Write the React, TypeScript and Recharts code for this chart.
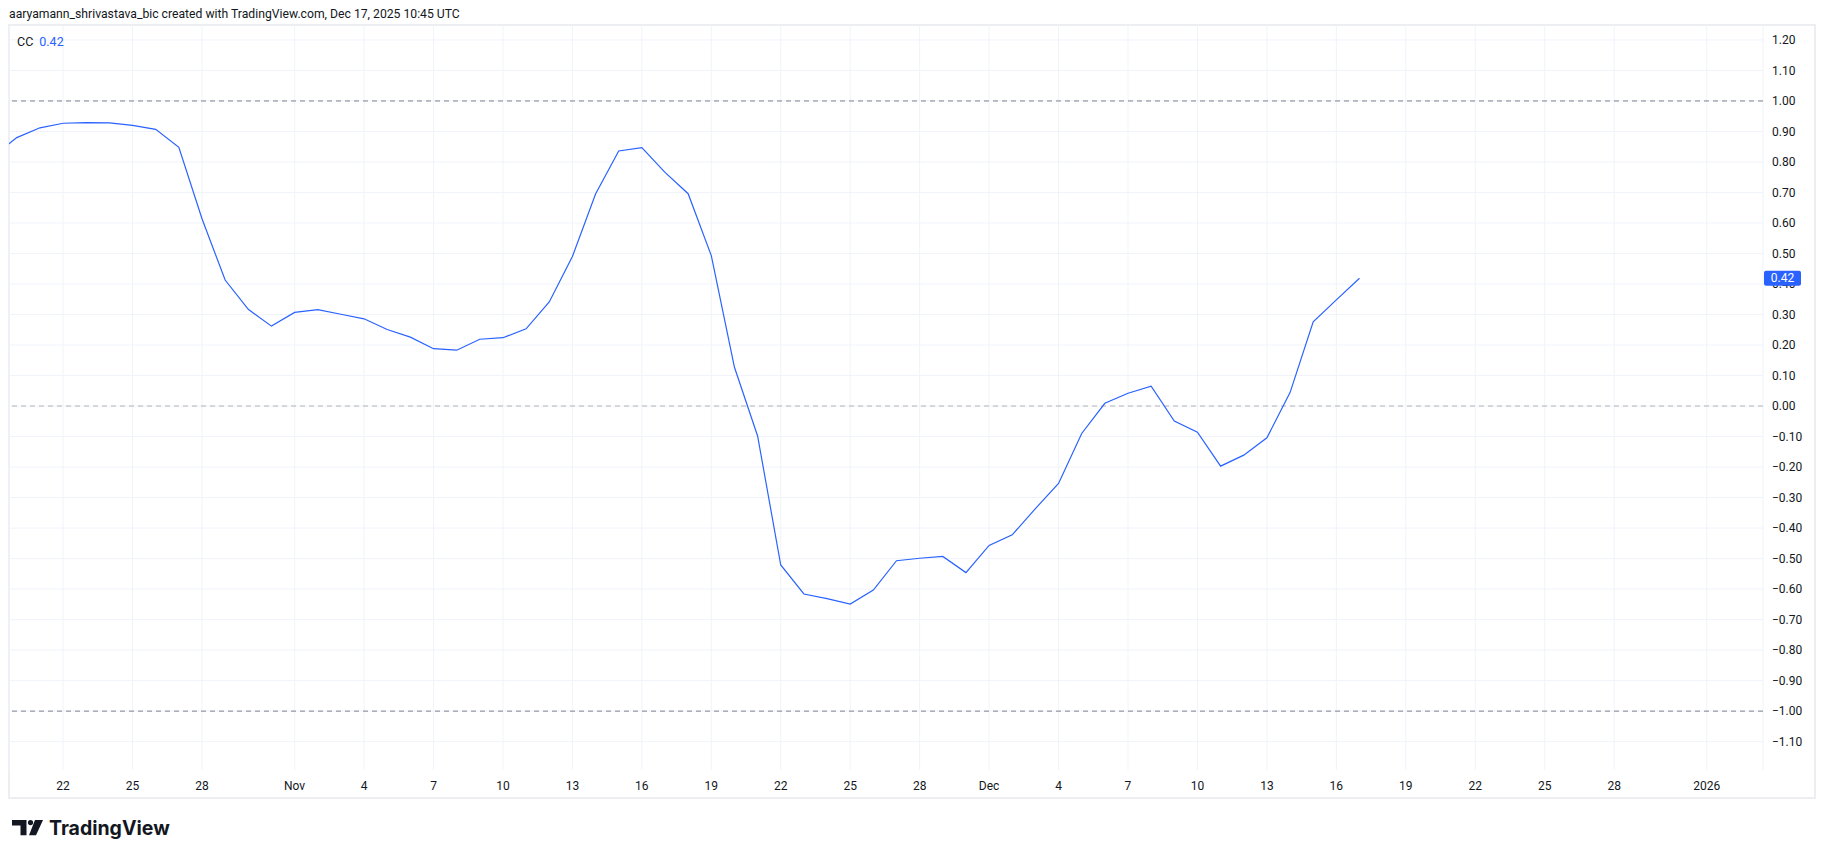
import { LineChart, Line, XAxis, YAxis, CartesianGrid, ReferenceLine } from "recharts";

// daily CC readings, first point is Oct 19 2025 (partly off the left edge)
const startDate = "2025-10-19";
const ccValues = [
  0.82, 0.88, 0.912, 0.927, 0.929, 0.928, 0.92, 0.907, 0.848, 0.614,
  0.413, 0.317, 0.262, 0.307, 0.316, 0.301, 0.286, 0.251, 0.226, 0.188,
  0.183, 0.219, 0.224, 0.253, 0.341, 0.49, 0.695, 0.836, 0.847, 0.766,
  0.696, 0.493, 0.127, -0.098, -0.521, -0.616, -0.631, -0.649, -0.603, -0.507,
  -0.499, -0.493, -0.546, -0.457, -0.422, -0.336, -0.254, -0.09, 0.009, 0.042,
  0.065, -0.049, -0.086, -0.197, -0.161, -0.104, 0.044, 0.276, 0.348, 0.419,
];

const tickDates = [
  "2025-10-22", "2025-10-25", "2025-10-28", "2025-11-01", "2025-11-04", "2025-11-07",
  "2025-11-10", "2025-11-13", "2025-11-16", "2025-11-19", "2025-11-22", "2025-11-25",
  "2025-11-28", "2025-12-01", "2025-12-04", "2025-12-07", "2025-12-10", "2025-12-13",
  "2025-12-16", "2025-12-19", "2025-12-22", "2025-12-25", "2025-12-28", "2026-01-01",
];
const tickLabels = [
  "22", "25", "28", "Nov", "4", "7", "10", "13", "16", "19", "22", "25",
  "28", "Dec", "4", "7", "10", "13", "16", "19", "22", "25", "28", "2026",
];

const yTicks = [
  -1.1, -1.0, -0.9, -0.8, -0.7, -0.6, -0.5, -0.4, -0.3, -0.2, -0.1, 0,
  0.1, 0.2, 0.3, 0.4, 0.5, 0.6, 0.7, 0.8, 0.9, 1.0, 1.1, 1.2,
];
const levels = [1, 0, -1];

const DAY = 86400000;
const dayOf = (d: string) => Math.round((Date.parse(d) - Date.parse(startDate)) / DAY);

const data = ccValues.map((v, i) => ({ day: i, cc: v }));
const tickDays = tickDates.map(dayOf);
const lastValue = ccValues[ccValues.length - 1];
// last value goes at the end so its tag is painted over the regular labels
const axisTicks = [...yTicks, lastValue];

const FONT = "Roboto, 'Liberation Sans', sans-serif";
const BLUE = "#2962ff";

const fmtPrice = (v: number) => (v < -0.0001 ? "\u2212" : "") + Math.abs(v).toFixed(2);
const fmtDay = (d: number) => tickLabels[tickDays.indexOf(d)] ?? "";

function PriceTick(props: any) {
  const { x, y, payload, index } = props;
  const v = Number(payload.value);
  if (index === axisTicks.length - 1) {
    const left = x - 8;
    return (
      <g>
        <rect x={left} y={y - 7.5} width={37} height={15} rx={2} fill={BLUE} />
        <text
          x={left + 18.5}
          y={y}
          dy="0.355em"
          textAnchor="middle"
          fill="#ffffff"
          fontSize={12}
          fontFamily={FONT}
        >
          {v.toFixed(2)}
        </text>
      </g>
    );
  }
  return (
    <text x={x} y={y} dy="0.355em" textAnchor="start" fill="#131722" fontSize={12} fontFamily={FONT}>
      {fmtPrice(v)}
    </text>
  );
}

function Logo() {
  return (
    <div style={{ position: "absolute", left: 12, top: 820, display: "flex", alignItems: "center" }}>
      <svg width={31} height={16} viewBox="0 0 31 16">
        <path d="M0 0 H14.5 V15.3 H8.5 V5.4 H0 Z" fill="#131722" />
        <circle cx={18.5} cy={2.6} r={2.6} fill="#131722" />
        <path d="M23 0 H31 L24 15.3 H17 Z" fill="#131722" />
      </svg>
      <span
        style={{
          marginLeft: 6,
          fontFamily: "Inter, sans-serif",
          fontWeight: 700,
          fontSize: 19.5,
          color: "#131722",
          lineHeight: "16px",
        }}
      >
        TradingView
      </span>
    </div>
  );
}

export default function App() {
  return (
    <div
      style={{
        position: "absolute",
        left: 0,
        top: 0,
        width: 1825,
        height: 859,
        background: "#ffffff",
        fontFamily: FONT,
        overflow: "hidden",
      }}
    >
      <div
        style={{
          position: "absolute",
          left: 9,
          top: 7,
          fontSize: 12.2,
          color: "#131722",
          whiteSpace: "nowrap",
        }}
      >
        aaryamann_shrivastava_bic created with TradingView.com, Dec 17, 2025 10:45 UTC
      </div>

      <div
        style={{
          position: "absolute",
          left: 8,
          top: 24,
          width: 1808,
          height: 775,
          boxSizing: "border-box",
          border: "2px solid #eceef2",
        }}
      />

      <div style={{ position: "absolute", left: 0, top: 0 }}>
        <LineChart
          width={1825}
          height={859}
          data={data}
          margin={{ top: 25, right: 10, bottom: 61, left: 9 }}
        >
          <CartesianGrid stroke="#f0f3fa" strokeWidth={1} horizontalValues={yTicks} />
          <XAxis
            dataKey="day"
            type="number"
            domain={[0.663, 76.43]}
            allowDataOverflow
            ticks={tickDays}
            interval={0}
            tickFormatter={fmtDay}
            height={28}
            axisLine={false}
            tickLine={false}
            tickSize={0}
            tickMargin={11}
            tick={{ fill: "#131722", fontSize: 12, fontFamily: FONT }}
          />
          <YAxis
            orientation="right"
            type="number"
            domain={[-1.193, 1.249]}
            allowDataOverflow
            ticks={axisTicks}
            interval={0}
            width={52}
            axisLine={false}
            tickLine={false}
            tickSize={0}
            tickMargin={9}
            tick={<PriceTick />}
          />
          {levels.map((lv) => (
            <ReferenceLine
              key={lv}
              y={lv}
              stroke="#787b86"
              strokeOpacity={lv === 0 ? 0.55 : 0.95}
              strokeDasharray="5 4"
              strokeWidth={1}
            />
          ))}
          <Line
            type="linear"
            dataKey="cc"
            stroke={BLUE}
            strokeWidth={1.2}
            dot={false}
            activeDot={false}
            isAnimationActive={false}
          />
        </LineChart>
      </div>

      <div
        style={{
          position: "absolute",
          left: 17,
          top: 34,
          fontSize: 12.5,
          whiteSpace: "nowrap",
          lineHeight: "16px",
        }}
      >
        <span style={{ color: "#131722" }}>CC</span>
        <span style={{ color: BLUE, marginLeft: 6 }}>{lastValue.toFixed(2)}</span>
      </div>

      <Logo />
    </div>
  );
}
